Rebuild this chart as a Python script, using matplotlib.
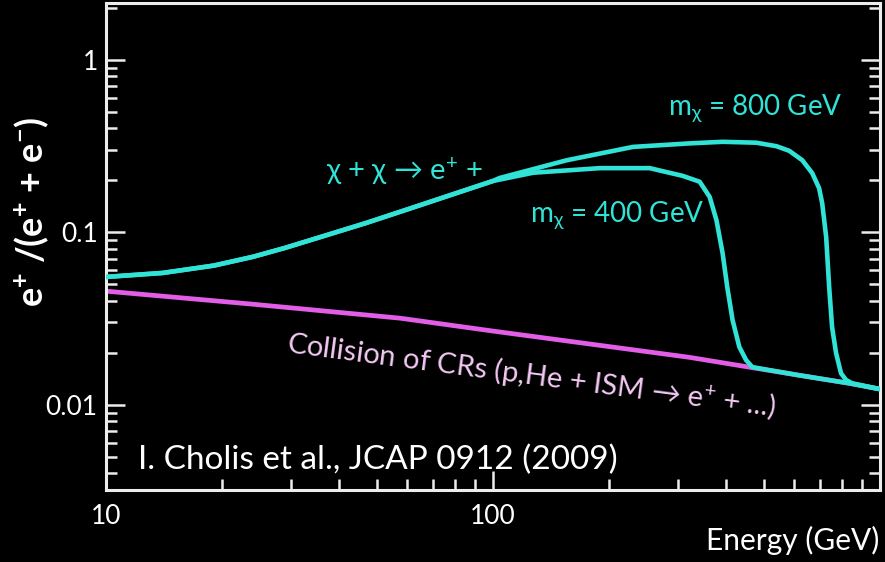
import matplotlib
matplotlib.use('Agg')
import matplotlib.pyplot as plt
import numpy as np

plt.rcParams['font.family'] = ['Lato', 'DejaVu Sans']
plt.rcParams['mathtext.default'] = 'regular'

# Positron fraction vs energy (GeV)
# shared low-energy part of both dark matter curves
e_low = [10, 14, 19, 24, 29, 36, 47, 61, 77, 100]
r_low = [0.055, 0.058, 0.064, 0.072, 0.081, 0.094, 0.113, 0.137, 0.163, 0.198]

# m_chi = 400 GeV
e_400 = [127, 189, 254, 309, 342, 363, 378, 392, 403, 416, 433, 451, 468, 618, 832, 1000]
r_400 = [0.221, 0.235, 0.235, 0.212, 0.196, 0.160, 0.117, 0.0755, 0.048, 0.0309,
         0.0216, 0.0181, 0.0165, 0.0148, 0.0133, 0.0123]

# m_chi = 800 GeV
e_800 = [104, 155, 230, 322, 392, 479, 540, 583, 630, 668, 696, 709, 726, 739,
         752, 770, 793, 817, 847, 1000]
r_800 = [0.206, 0.261, 0.312, 0.327, 0.334, 0.330, 0.315, 0.296, 0.261, 0.220,
         0.180, 0.147, 0.0935, 0.048, 0.0281, 0.0199, 0.0152, 0.0139, 0.0133, 0.0123]

# secondary positrons from cosmic ray collisions
e_bg = [10, 23.7, 57.6, 100, 322, 459, 618, 832, 1000]
r_bg = [0.0455, 0.0383, 0.0317, 0.0267, 0.0188, 0.0165, 0.0148, 0.0133, 0.0123]

cyan = '#30e3d6'
magenta = '#e25ee6'
fg = '#ececec'

fig = plt.figure(figsize=(8.85, 5.62), dpi=100, facecolor='black')
ax = fig.add_axes([106/885, 1 - 490/562, 774/885, 487/562])
ax.set_facecolor('black')

ax.plot(e_bg, r_bg, color=magenta, lw=3.4, solid_capstyle='butt', zorder=2)
ax.plot(e_low + e_400, r_low + r_400, color=cyan, lw=3.3, zorder=3)
ax.plot(e_low + e_800, r_low + r_800, color=cyan, lw=3.3, zorder=3)

ax.set_xscale('log')
ax.set_yscale('log')
ax.set_xlim(10, 1000)
ax.set_ylim(0.0032, 2.13)

for s in ax.spines.values():
    s.set_color(fg)
    s.set_linewidth(2.2)

ax.tick_params(which='both', direction='in', colors=fg, width=1.8,
               top=False, right=True, labelsize=19, pad=6)
ax.tick_params(axis='x', which='both', pad=10)
ax.tick_params(which='major', length=14)
ax.tick_params(which='minor', length=8)
ax.set_xticks([10, 100])
ax.set_xticklabels(['10', '100'])
ax.set_yticks([0.01, 0.1, 1])
ax.set_yticklabels(['0.01', '0.1', '1'])
for lab in ax.get_xticklabels() + ax.get_yticklabels():
    lab.set_color('white')

ax.text(37, 0.226, r'$\chi$ + $\chi$ → e$^{+}$ +', color=cyan, fontsize=21,
        ha='left', va='center')
ax.text(284, 0.524, r'm$_{\chi}$ = 800 GeV', color=cyan, fontsize=20,
        ha='left', va='center')
ax.text(124.5, 0.1256, r'm$_{\chi}$ = 400 GeV', color=cyan, fontsize=20,
        ha='left', va='center')
ax.text(29.1, 0.0201, r'Collision of CRs (p,He + ISM → e$^{+}$ + ...)',
        color='#f3c9f3', fontsize=21, ha='left', va='baseline',
        rotation=-7.5, rotation_mode='anchor')
ax.text(0.041, 0.0616, 'I. Cholis et al., JCAP 0912 (2009)', color='white',
        fontsize=24, transform=ax.transAxes, ha='left', va='center')

fig.text(879/885, 1 - 540/562, 'Energy (GeV)', color='white', fontsize=21.5,
         ha='right', va='center')
fig.text(32/885, 1 - 212/562, r'e$^{+}$ /(e$^{+}$ + e$^{-}$)', color='white',
         fontsize=26, fontweight='bold', rotation=90, ha='center', va='center')

fig.savefig('out.png', dpi=100, facecolor='black')
